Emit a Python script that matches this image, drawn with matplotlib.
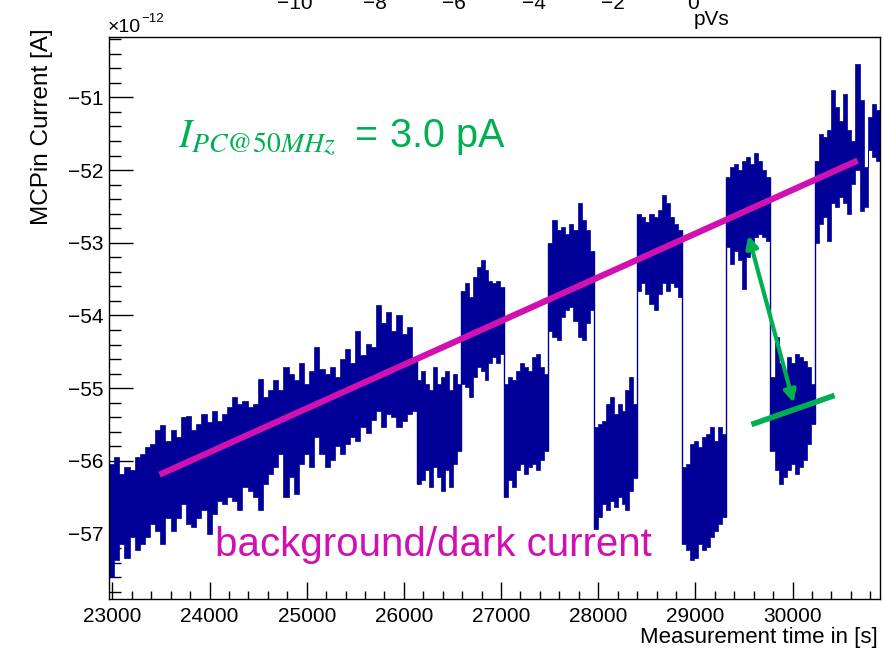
import numpy as np
import matplotlib.pyplot as plt
from matplotlib.ticker import MultipleLocator, FuncFormatter

plt.rcParams['font.family'] = ['Liberation Sans', 'DejaVu Sans']
plt.rcParams['mathtext.fontset'] = 'stix'

# segment boundaries of the measurement (LED off/on cycles) [s]
seg_edges = [22965, 26134, 26588, 27031, 27485, 27960, 28400, 28866, 29320, 29773, 30227, 30900]

# upper / lower envelope of the noisy MCPin current per segment [1e-12 A]
ramp_hi = [-56.04, -55.95, -56.18, -56.09, -56.13, -55.95, -55.90, -55.81, -55.77, -55.58,
           -55.51, -55.72, -55.58, -55.67, -55.40, -55.38, -55.58, -55.49, -55.35, -55.47,
           -55.31, -55.45, -55.35, -55.26, -55.12, -55.22, -55.17, -55.26, -55.22, -54.87,
           -55.12, -55.03, -54.89, -55.03, -54.71, -54.80, -54.89, -54.66, -54.94, -54.76,
           -54.44, -54.73, -54.80, -54.71, -54.85, -54.60, -54.46, -54.66, -54.21, -54.55,
           -54.39, -54.44, -53.86, -54.11, -53.95, -54.21, -54.00, -54.25, -54.16, -54.57]
ramp_lo = [-57.60, -57.37, -57.14, -57.33, -57.05, -57.23, -57.14, -57.05, -56.87, -56.96,
           -57.14, -56.78, -56.96, -56.78, -56.59, -56.87, -56.91, -56.78, -56.68, -57.00,
           -56.73, -56.55, -56.59, -56.50, -56.55, -56.68, -56.36, -56.41, -56.50, -56.68,
           -56.32, -56.18, -56.09, -55.90, -56.50, -56.22, -56.45, -56.05, -55.90, -56.09,
           -55.67, -55.90, -56.09, -55.99, -55.80, -55.90, -55.77, -55.67, -55.72, -55.54,
           -55.62, -55.44, -55.31, -55.54, -55.35, -55.40, -55.54, -55.45, -55.35, -55.31]
low1_hi = [-54.89, -54.76, -54.94, -55.03, -54.71, -54.94, -54.85, -54.76, -55.03, -54.80, -54.94]
low1_lo = [-56.32, -56.27, -56.13, -56.36, -56.09, -56.22, -56.41, -56.13, -56.36, -56.04, -55.86]
high1_hi = [-53.66, -53.56, -53.75, -53.47, -53.34, -53.24, -53.38, -53.52, -53.56, -53.52, -53.61]
high1_lo = [-54.94, -54.99, -55.12, -54.85, -54.71, -54.76, -54.89, -54.66, -54.57, -54.66, -54.53]
low2_hi = [-54.94, -54.85, -54.89, -54.76, -54.66, -54.71, -54.76, -54.57, -54.53, -54.71, -54.80]
low2_lo = [-56.50, -56.27, -56.36, -56.13, -56.04, -56.18, -56.09, -56.04, -56.13, -55.99, -55.86]
high2_hi = [-53.01, -52.69, -52.83, -52.78, -52.88, -52.74, -52.83, -52.46, -52.69, -52.83, -53.11]
high2_lo = [-54.21, -54.30, -54.34, -54.02, -53.93, -53.89, -54.07, -54.30, -54.34, -54.11, -53.93]
low3_hi = [-55.54, -55.49, -55.45, -55.22, -55.12, -55.35, -55.22, -55.31, -55.03, -54.85, -55.22]
low3_lo = [-56.94, -56.77, -56.59, -56.68, -56.55, -56.64, -56.50, -56.59, -56.68, -56.41, -56.23]
high3_hi = [-52.60, -52.65, -52.72, -52.60, -52.65, -52.55, -52.35, -52.46, -52.65, -52.74, -52.83]
high3_lo = [-53.66, -53.56, -53.70, -53.84, -53.93, -53.70, -53.56, -53.66, -53.56, -53.61, -53.75]
low4_hi = [-56.09, -56.04, -55.77, -55.72, -55.81, -55.67, -55.63, -55.54, -55.72, -55.54, -55.63]
low4_lo = [-57.14, -57.23, -57.37, -57.33, -57.14, -57.23, -57.19, -57.05, -56.96, -56.87, -56.77]
high4_hi = [-52.10, -51.96, -51.91, -52.00, -51.87, -51.82, -51.91, -51.77, -51.87, -52.00, -52.10]
high4_lo = [-53.06, -53.29, -53.11, -53.24, -53.63, -53.20, -53.01, -52.92, -52.88, -52.92, -52.97]
low5_hi = [-54.85, -54.30, -54.66, -54.76, -54.57, -54.66, -54.53, -54.57, -54.62, -54.71, -54.94]
low5_lo = [-55.86, -56.13, -56.32, -56.22, -56.13, -56.04, -56.18, -56.09, -55.99, -55.77, -55.49]
high5_hi = [-51.87, -51.50, -51.55, -51.45, -50.90, -51.13, -51.32, -50.95,
            -51.45, -51.60, -50.54, -51.04, -51.96, -51.27, -51.09, -51.18]
high5_lo = [-53.01, -52.74, -52.65, -52.97, -52.46, -52.51, -52.37, -52.46,
            -52.60, -52.19, -52.00, -52.56, -52.51, -51.73, -51.82, -51.87]

# background (dark current) fit line
fit_t = [23485, 30670]
fit_i = [-56.19, -51.87]

# photocurrent step marker
arrow_t = [29546, 30010]
arrow_i = [-52.90, -55.20]
level_t = [29577, 30433]
level_i = [-55.50, -55.10]

# axis labels of the neighbouring plot cut off at the top
top_labels = ['−10', '−8', '−6', '−4', '−2', '0']

seg_hi = [ramp_hi, low1_hi, high1_hi, low2_hi, high2_hi, low3_hi,
          high3_hi, low4_hi, high4_hi, low5_hi, high5_hi]
seg_lo = [ramp_lo, low1_lo, high1_lo, low2_lo, high2_lo, low3_lo,
          high3_lo, low4_lo, high4_lo, low5_lo, high5_lo]

blue = '#000099'
magenta = '#D010B0'
green = '#00B050'

W, H = 884, 649
def fx(px):
    return px / W
def fy(py):
    return 1 - py / H

fig = plt.figure(figsize=(W / 100, H / 100), dpi=100)
ax = fig.add_axes([fx(109), fy(599), (880 - 109) / W, (599 - 37) / H])

# noisy trace: stepped envelope per segment
for i in range(len(seg_hi)):
    n = len(seg_hi[i])
    edges = np.linspace(seg_edges[i], seg_edges[i + 1], n + 1)
    x = np.repeat(edges, 2)[1:-1]
    ax.fill_between(x, np.repeat(seg_lo[i], 2), np.repeat(seg_hi[i], 2),
                    color=blue, lw=0.5, zorder=2)
    # thin connecting line at the switching time
    if i > 0:
        lo = min(seg_lo[i - 1][-1], seg_lo[i][0])
        hi = max(seg_hi[i - 1][-1], seg_hi[i][0])
        ax.vlines(seg_edges[i], lo, hi, color=blue, lw=1, zorder=2)

ax.plot(fit_t, fit_i, color=magenta, lw=4.5, solid_capstyle='butt', zorder=3)
ax.plot(level_t, level_i, color=green, lw=4, solid_capstyle='butt', zorder=3)
ax.annotate('', xy=(arrow_t[1], arrow_i[1]), xytext=(arrow_t[0], arrow_i[0]),
            arrowprops=dict(arrowstyle='<|-|>', color=green, lw=3,
                            mutation_scale=18, shrinkA=0, shrinkB=0), zorder=3)

ax.set_xlim(22965, 30900)
ax.set_ylim(-57.9, -50.17)

ax.xaxis.set_major_locator(MultipleLocator(1000))
ax.xaxis.set_minor_locator(MultipleLocator(200))
ax.yaxis.set_major_locator(MultipleLocator(1))
ax.yaxis.set_minor_locator(MultipleLocator(0.2))
ax.xaxis.set_major_formatter(FuncFormatter(lambda v, p: f'{v:.0f}'))
ax.yaxis.set_major_formatter(FuncFormatter(lambda v, p: f'{v:.0f}'.replace('-', '−')))

ax.tick_params(which='both', direction='in', top=False, right=False,
               labelsize=15, width=1, color='black')
ax.tick_params(axis='y', which='major', length=17, pad=4)
ax.tick_params(axis='y', which='minor', length=8.5)
ax.tick_params(axis='x', which='major', length=12, pad=6)
ax.tick_params(axis='x', which='minor', length=6)
for s in ax.spines.values():
    s.set_linewidth(1)

# axis titles as placed by ROOT
fig.text(fx(42), fy(28), 'MCPin Current [A]', rotation=90, ha='center', va='top', fontsize=17.5)
fig.text(fx(878), fy(627), 'Measurement time in [s]', ha='right', va='top', fontsize=16)
fig.text(fx(108), fy(32), '×10', ha='left', va='baseline', fontsize=14)
fig.text(fx(141), fy(22), '−12', ha='left', va='baseline', fontsize=9.5)

# cut-off labels of the plot above (only their lower part is in the picture)
for k, lab in enumerate(top_labels):
    fig.text(fx(295 + 79.5 * k), fy(9), lab, ha='center', va='baseline', fontsize=15)
fig.text(fx(712), fy(25), 'pVs', ha='center', va='baseline', fontsize=15)

# annotations
fig.text(fx(178), fy(148), r'$I_{PC@50MHz}\;$ = 3.0 pA', color=green,
         ha='left', va='baseline', fontsize=28.5)
fig.text(fx(215), fy(545), 'background/dark current', color=magenta,
         ha='left', va='center', fontsize=29)

fig.savefig('out.png', dpi=100)
